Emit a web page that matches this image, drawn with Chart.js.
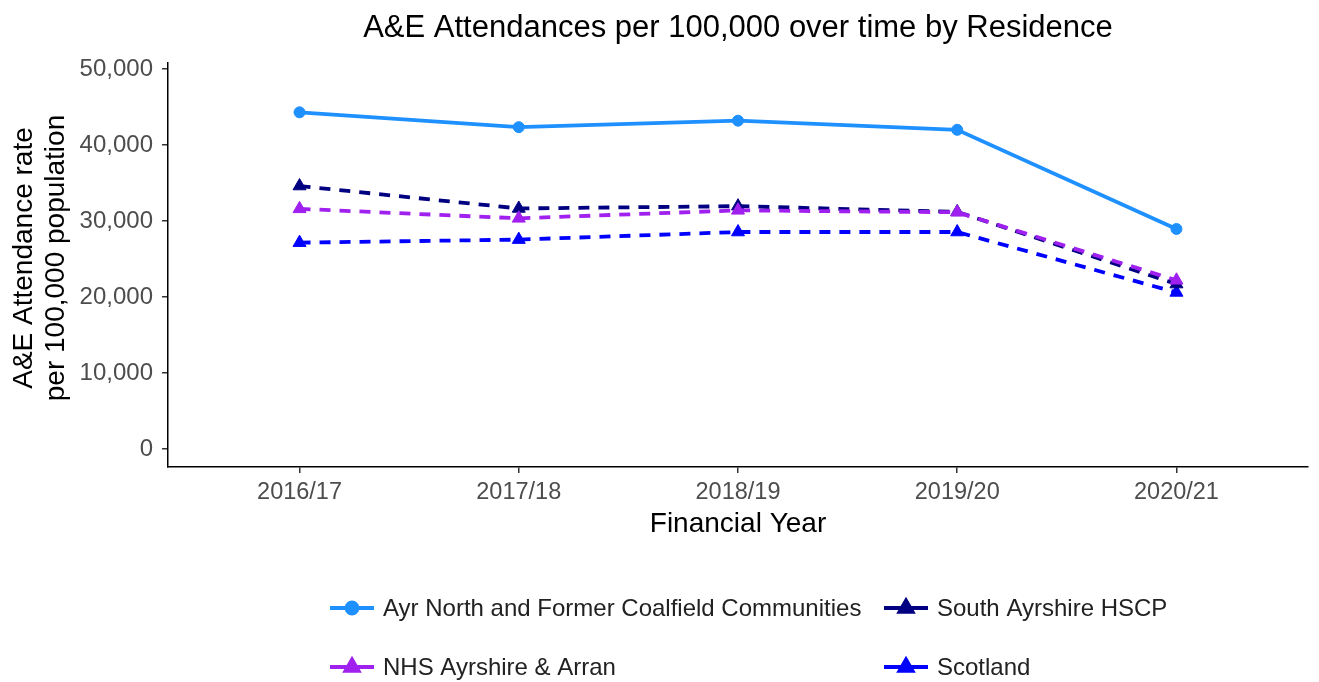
<!DOCTYPE html>
<html>
<head>
<meta charset="utf-8">
<script src="https://cdn.jsdelivr.net/npm/chart.js@4/dist/chart.umd.min.js"></script>
<style>
  html, body { margin: 0; padding: 0; background: #fff; }
  #wrap { width: 1319px; height: 682px; position: relative; }
</style>
</head>
<body>
<div id="wrap"><canvas id="chart" width="1319" height="682"></canvas></div>
<script>
// A&E attendances per 100,000 by residence

const years = ['2016/17', '2017/18', '2018/19', '2019/20', '2020/21'];
const seriesNames = [
    'Ayr North and Former Coalfield Communities',
    'NHS Ayrshire & Arran',
    'South Ayrshire HSCP',
    'Scotland'
];
const ayrNorth = [44300, 42350, 43200, 42000, 28950];
const nhsAyrshire = [31600, 30350, 31400, 31150, 22200];
const southAyrshire = [34600, 31650, 31950, 31200, 21700];
const scotland = [27150, 27550, 28550, 28550, 20600];
const yTicks = [0, 10000, 20000, 30000, 40000, 50000];

const FONT = '"Liberation Sans", Arial, sans-serif';

// colours, marker and dash per series
const STYLES = [
    { color: '#1E90FF', point: 'circle', radius: 5.5, dash: [] },
    { color: '#A020F0', point: 'triangle', radius: 7.5, dash: [11, 9] },
    { color: '#000080', point: 'triangle', radius: 7.5, dash: [11, 9] },
    { color: '#0000FF', point: 'triangle', radius: 7.5, dash: [11, 9] }
];

const allValues = [ayrNorth, nhsAyrshire, southAyrshire, scotland];

function makeDataset(i) {
    const s = STYLES[i];
    return {
        label: seriesNames[i],
        data: allValues[i].map((v, k) => ({ x: k, y: v })),
        borderColor: s.color,
        backgroundColor: s.color,
        borderWidth: 3.8,
        borderDash: s.dash,
        pointStyle: s.point,
        pointRadius: s.radius,
        pointBorderWidth: 1,
        tension: 0,
        clip: false
    };
}

// titles and legend drawn by hand to get the ggplot layout
const decorations = {
    id: 'decorations',
    afterDraw(chart) {
        const ctx = chart.ctx;
        const area = chart.chartArea;
        const cx = (area.left + area.right) / 2;
        ctx.save();
        ctx.fillStyle = '#000';
        ctx.textAlign = 'center';
        ctx.textBaseline = 'middle';

        ctx.font = '31px ' + FONT;
        ctx.fillText('A&E Attendances per 100,000 over time by Residence', cx, 28);

        ctx.font = '28px ' + FONT;
        ctx.fillText('Financial Year', cx, 524);

        ctx.save();
        ctx.translate(24, 258);
        ctx.rotate(-Math.PI / 2);
        ctx.fillText('A&E Attendance rate', 0, 0);
        ctx.fillText('per 100,000 population', 0, 32);
        ctx.restore();

        // legend, two columns filled by column
        const cols = [352, 906];
        const rows = [608, 667];
        seriesNames.forEach((name, i) => {
            const s = STYLES[i];
            const x = cols[Math.floor(i / 2)];
            const y = rows[i % 2];
            ctx.strokeStyle = s.color;
            ctx.fillStyle = s.color;
            ctx.lineWidth = 3.8;
            ctx.setLineDash([]);
            ctx.beginPath();
            ctx.moveTo(x - 22, y);
            ctx.lineTo(x + 22, y);
            ctx.stroke();
            Chart.helpers.drawPoint(ctx, {
                pointStyle: s.point,
                radius: s.radius,
                borderWidth: 1,
                rotation: 0
            }, x, y);
            ctx.fillStyle = '#222';
            ctx.textAlign = 'left';
            ctx.font = '24px ' + FONT;
            ctx.fillText(name, x + 31, y + 1);
        });
        ctx.restore();
    }
};

new Chart(document.getElementById('chart'), {
    type: 'line',
    data: { datasets: seriesNames.map((_, i) => makeDataset(i)) },
    options: {
        responsive: false,
        animation: false,
        layout: { padding: { top: 63, right: 11, bottom: 0, left: 0 } },
        plugins: {
            legend: { display: false },
            tooltip: { enabled: false }
        },
        scales: {
            x: {
                type: 'linear',
                min: -0.6,
                max: 4.6,
                afterBuildTicks: scale => {
                    scale.ticks = years.map((_, k) => ({ value: k }));
                },
                afterFit: scale => { scale.height = 215; },
                ticks: {
                    color: '#4D4D4D',
                    font: { family: FONT, size: 23.5 },
                    padding: 5,
                    callback: v => years[v]
                },
                grid: {
                    drawOnChartArea: false,
                    drawTicks: true,
                    tickLength: 6,
                    color: '#333',
                    lineWidth: 1.5
                },
                border: { color: '#000', width: 1.5 }
            },
            y: {
                min: -2370,
                max: 50790,
                afterBuildTicks: scale => {
                    scale.ticks = yTicks.map(v => ({ value: v }));
                },
                afterFit: scale => { scale.width = 168; },
                ticks: {
                    color: '#4D4D4D',
                    font: { family: FONT, size: 24 },
                    padding: 9,
                    callback: v => v.toLocaleString('en-GB')
                },
                grid: {
                    drawOnChartArea: false,
                    drawTicks: true,
                    tickLength: 6,
                    color: '#333',
                    lineWidth: 1.5
                },
                border: { color: '#000', width: 1.5 }
            }
        }
    },
    plugins: [decorations]
});
</script>
</body>
</html>
